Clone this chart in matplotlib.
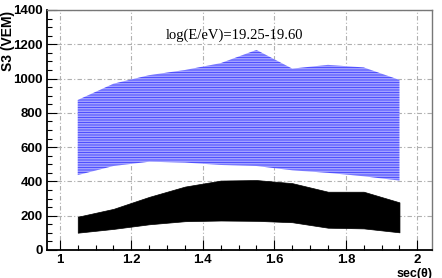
import matplotlib
matplotlib.use("Agg")
import matplotlib.pyplot as plt
from matplotlib.ticker import MultipleLocator, FormatStrFormatter
import numpy as np

plt.rcParams['hatch.linewidth'] = 0.8

sec_theta = [1.05, 1.15, 1.25, 1.35, 1.45, 1.55, 1.65, 1.75, 1.85, 1.95]
blue_upper = [875, 970, 1020, 1050, 1090, 1167, 1058, 1080, 1065, 992]
blue_lower = [437, 490, 515, 510, 496, 490, 465, 450, 430, 405]
black_upper = [194, 240, 310, 370, 405, 408, 390, 340, 340, 278]
black_lower = [101, 123, 150, 168, 172, 170, 162, 130, 126, 103]

title_text = "log(E/eV)=19.25-19.60"
xlabel_text = "sec(\u03b8)"
ylabel_text = "S3 (VEM)"

fig = plt.figure(figsize=(4.42, 2.78), dpi=100)
ax = fig.add_axes([47/442, 28/278, 385/442, 240/278])

ax.set_xlim(0.964, 2.041)
ax.set_ylim(0, 1400)

ax.fill_between(sec_theta, blue_lower, blue_upper, facecolor='#e4e4ff',
                edgecolor='#5050ff', hatch='-' * 10, linewidth=0, zorder=2)
ax.fill_between(sec_theta, black_lower, black_upper, facecolor='black',
                edgecolor='black', linewidth=0.5, zorder=3)

ax.xaxis.set_major_locator(MultipleLocator(0.2))
ax.xaxis.set_minor_locator(MultipleLocator(0.05))
ax.yaxis.set_major_locator(MultipleLocator(200))
ax.yaxis.set_minor_locator(MultipleLocator(50))
ax.xaxis.set_major_formatter(FormatStrFormatter('%g'))
ax.yaxis.set_major_formatter(FormatStrFormatter('%g'))

ax.grid(True, which='major', color='#b0b0b0', linestyle=(0, (4, 2, 1, 2)), linewidth=0.8, zorder=1)
ax.set_axisbelow(True)

ax.tick_params(which='major', direction='in', length=7, width=0.8, color='black',
               labelsize=9.5)
ax.tick_params(axis='x', which='major', pad=3)
ax.tick_params(axis='y', which='major', pad=3)
ax.tick_params(which='minor', direction='in', length=3.5, width=0.8, color='black')
ax.tick_params(top=False, right=False)
for lbl in ax.get_xticklabels() + ax.get_yticklabels():
    lbl.set_fontweight('bold')
    lbl.set_family('Liberation Sans')

for s in ['left', 'bottom']:
    ax.spines[s].set_color('black')
    ax.spines[s].set_linewidth(1.3)
for s in ['top', 'right']:
    ax.spines[s].set_color('#777777')
    ax.spines[s].set_linewidth(1.0)

fig.text(235/442, 1 - 35/278, title_text, ha='center', va='center',
         family='Liberation Serif', fontsize=10.5)
fig.text(433/442, 1 - 273.5/278, xlabel_text, ha='right', va='center',
         family='Liberation Sans', fontweight='bold', fontsize=9)
fig.text(8/442, 1 - 11/278, ylabel_text, ha='center', va='top', rotation=90,
         family='Liberation Sans', fontweight='bold', fontsize=10)

fig.savefig("out.png", dpi=100)
